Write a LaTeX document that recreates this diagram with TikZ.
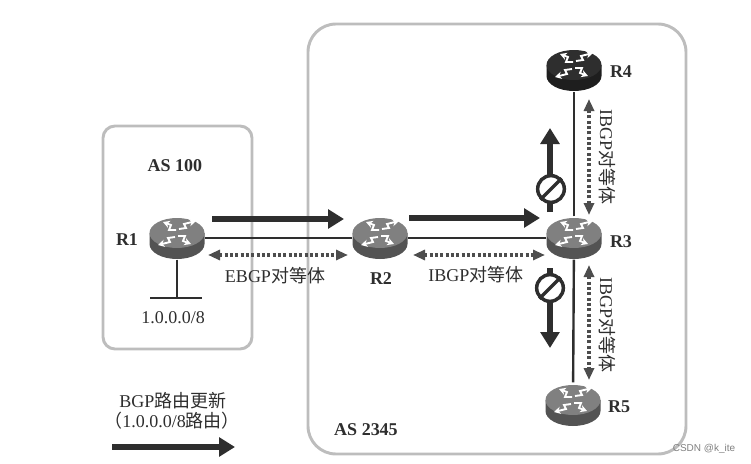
\documentclass[tikz,border=0pt]{standalone}
\usepackage{fontspec}
\setmainfont{Liberation Serif}
\newfontfamily\cjk{Noto Sans CJK SC}
\newfontfamily\wm{Liberation Sans}
\usetikzlibrary{arrows.meta,shapes.geometric}
\definecolor{ink}{HTML}{2E2E2E}
\definecolor{boxgray}{HTML}{BDBDBD}
\newcommand{\peer}{{\cjk 对等体}}
\tikzset{
  x=0.75pt,y=-0.75pt,
  asbox/.style={draw=boxgray,line width=2.2pt,fill=white},
  lbl/.style={font=\fontsize{13.5}{15}\selectfont,text=ink,inner sep=0pt},
  bold/.style={lbl,font=\fontsize{13.5}{15}\selectfont\bfseries},
  routernode/.style={ellipse,minimum width=42pt,minimum height=32pt,inner sep=0pt},
  link/.style={draw=ink,line width=1.8pt},
  update/.style={draw=ink,line width=4pt,-{Triangle[length=12pt,width=14pt]}},
  peerline/.style={draw=ink!85,line width=2.4pt,dash pattern=on 2.2pt off 1.8pt,{Triangle[length=9pt,width=7.5pt]}-{Triangle[length=9pt,width=7.5pt]}},
  nosign/.style={circle,draw=ink,fill=white,line width=2.6pt,minimum size=20pt,inner sep=0pt},
  pics/router/.style={code={
    \fill[#1!65!black] (-27.5,0) -- (-27.5,11) arc[start angle=180,end angle=0,x radius=27.5,y radius=15] -- (27.5,0) -- cycle;
    \fill[#1] (0,0) ellipse[x radius=27.5,y radius=15];
    \begin{scope}[white,line width=1.4pt,line join=miter,-{Stealth[length=5pt,width=5.5pt]}]
      \draw (-1,-3) -- (-8,-3) -- (-6,-8) -- (-14,-11);
      \draw (2,-4) -- (9,-5) -- (7,-9) -- (19,-12);
      \draw (-2,4) -- (-9,5) -- (-7,9) -- (-19,12);
      \draw (1,3) -- (8,3) -- (6,8) -- (14,11);
    \end{scope}
  }},
}
\begin{document}
\begin{tikzpicture}
\useasboundingbox (0,0) rectangle (751,464);
\draw[asbox,rounded corners=9pt] (103,126) rectangle (252,349);
\draw[asbox,rounded corners=21pt] (308,24) rectangle (686,454);

\node[routernode] (R1) at (177,238) {};
\node[routernode] (R2) at (380,238) {};
\node[routernode] (R3) at (574,238) {};
\node[routernode] (R4) at (574,70) {};
\node[routernode] (R5) at (573,404) {};

\coordinate (n1) at (177,298);
\coordinate (b1) at (150,298);
\coordinate (b2) at (202,298);
\draw[link] (R1) -- (R2);
\draw[link] (R2) -- (R3);
\draw[link] (R3) -- (R4);
\draw[link] (R3) -- (R5);
\draw[link] (R1) -- (n1);
\draw[link,line width=2.2pt] (b1) -- (b2);

\pic at (177,233) {router=gray};
\pic at (380,233) {router=gray};
\pic at (574,233) {router=gray};
\pic at (574,65) {router=ink};
\pic at (573,400) {router=gray};

\coordinate (u1) at (212,219);
\coordinate (u2) at (344,219);
\coordinate (u3) at (409,218);
\coordinate (u4) at (540,218);
\coordinate (u5) at (550,212);
\coordinate (u6) at (550,128);
\coordinate (u7) at (550,268);
\coordinate (u8) at (550,348);
\coordinate (u9) at (112,447);
\coordinate (u10) at (235,447);
\draw[update] (u1) -- (u2);
\draw[update] (u3) -- (u4);
\draw[update] (u5) -- (u6);
\draw[update] (u7) -- (u8);
\draw[update] (u9) -- (u10);

\node[nosign] (s1) at (551,189) {};
\node[nosign] (s2) at (550,288) {};
\draw[ink,line width=2.6pt] (s1.225) -- (s1.45);
\draw[ink,line width=2.6pt] (s2.225) -- (s2.45);

\coordinate (p1) at (208,255);
\coordinate (p2) at (348,255);
\coordinate (p3) at (413,255);
\coordinate (p4) at (545,255);
\coordinate (p5) at (589,215);
\coordinate (p6) at (589,99);
\coordinate (p7) at (589,265);
\coordinate (p8) at (589,380);
\draw[peerline] (p1) -- (p2);
\draw[peerline] (p3) -- (p4);
\draw[peerline] (p5) -- (p6);
\draw[peerline] (p7) -- (p8);

\node[bold] (t1) at (175,166) {AS 100};
\node[bold] (t2) at (127,240) {R1};
\node[bold] (t3) at (381,279) {R2};
\node[bold] (t4) at (621,242) {R3};
\node[bold] (t5) at (621,72) {R4};
\node[bold] (t6) at (619,407) {R5};
\node[bold] (t7) at (366,430) {AS 2345};
\node[lbl] (t8) at (173,318) {1.0.0.0/8};
\node[lbl] (t9) at (275,276) {EBGP\peer};
\node[lbl] (t10) at (476,275) {IBGP\peer};
\node[lbl,rotate=-90] (t11) at (607,157) {IBGP\peer};
\node[lbl,rotate=-90] (t12) at (607,325) {IBGP\peer};
\node[lbl] (t13) at (173,401) {BGP{\cjk 路由更新}};
\node[lbl] (t14) at (172,421) {{\cjk （}1.0.0.0/8{\cjk 路由）}};
\node[font=\wm\fontsize{7.5}{9}\selectfont,text=gray,inner sep=0pt] (t15) at (704,449) {CSDN @k\_ite};
\end{tikzpicture}
\end{document}
